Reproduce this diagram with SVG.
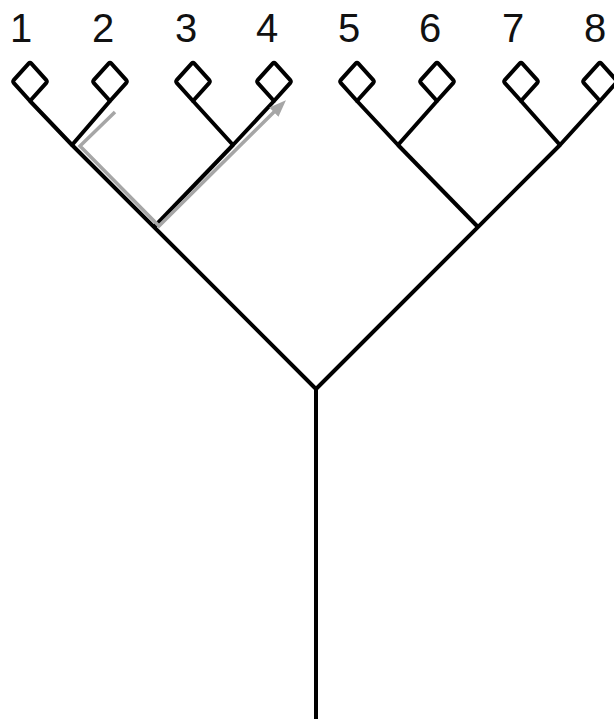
<svg xmlns="http://www.w3.org/2000/svg" width="614" height="719" viewBox="0 0 614 719">
<style>
.l{fill:none;stroke:#000;stroke-width:4;stroke-linejoin:round;stroke-linecap:butt}
.t{font-family:"Liberation Sans",Arial,sans-serif;font-size:40px;fill:#111;text-anchor:middle}
.g{fill:none;stroke:#a6a6a6;stroke-width:3.5;stroke-linejoin:miter}
</style>
<defs>
<marker id="ah" markerWidth="17" markerHeight="13" refX="3" refY="6.5" orient="auto" markerUnits="userSpaceOnUse" viewBox="0 0 17 13">
<path d="M0,0 L17,6.5 L0,13 Z" fill="#a6a6a6"/>
</marker>
<path id="leaf" d="M0,0 L-16.3,-18.2 Q-17.3,-19.5 -16.3,-20.8 L-1.2,-37.7 Q0,-39 1.2,-37.7 L16.3,-20.8 Q17.3,-19.5 16.3,-18.2 Z"/>
</defs>
<g id="connectors">
<path class="l" d="M72,145 L316,389 L560,145"/>
<path class="l" d="M316,389 L316,719"/>
<path class="l" d="M233,145 L154,227"/>
<path class="l" d="M398,145 L478,227"/>
<path class="l" d="M30,101 L72,145 L110,101"/>
<path class="l" d="M193,101 L233,145 L274,101"/>
<path class="l" d="M357,101 L398,145 L437,101"/>
<path class="l" d="M521,101 L560,145 L600,101"/>
<path class="g" d="M115,112 L80,146 L159,226 L276,110" marker-end="url(#ah)"/>
</g>
<g id="n1"><use href="#leaf" class="l" x="30" y="101"/><text class="t" x="21" y="42">1</text></g>
<g id="n2"><use href="#leaf" class="l" x="110" y="101"/><text class="t" x="103" y="42">2</text></g>
<g id="n3"><use href="#leaf" class="l" x="193" y="101"/><text class="t" x="186" y="42">3</text></g>
<g id="n4"><use href="#leaf" class="l" x="274" y="101"/><text class="t" x="267" y="42">4</text></g>
<g id="n5"><use href="#leaf" class="l" x="357" y="101"/><text class="t" x="349" y="42">5</text></g>
<g id="n6"><use href="#leaf" class="l" x="437" y="101"/><text class="t" x="430" y="42">6</text></g>
<g id="n7"><use href="#leaf" class="l" x="521" y="101"/><text class="t" x="513" y="42">7</text></g>
<g id="n8"><use href="#leaf" class="l" x="600" y="101"/><text class="t" x="595" y="42">8</text></g>
</svg>
